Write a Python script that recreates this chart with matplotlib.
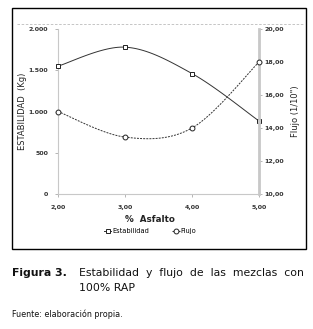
import numpy as np
import matplotlib.pyplot as plt
from matplotlib.patches import Rectangle
from matplotlib.lines import Line2D

asfalto = [2.0, 3.0, 4.0, 5.0]
estabilidad = [1550, 1780, 1460, 885]
flujo = [15.0, 13.45, 14.0, 18.0]

x_ticks = [2.0, 3.0, 4.0, 5.0]
x_labels = ['2,00', '3,00', '4,00', '5,00']
y_ticks = [0, 500, 1000, 1500, 2000]
y_labels = ['0', '500', '1.000', '1.500', '2.000']
y2_ticks = [10, 12, 14, 16, 18, 20]
y2_labels = ['10,00', '12,00', '14,00', '16,00', '18,00', '20,00']


def smooth(x, y, n=30):
    # curva suavizada tipo Excel (Catmull-Rom)
    x = np.asarray(x, float)
    y = np.asarray(y, float)
    px = np.concatenate([[x[0]], x, [x[-1]]])
    py = np.concatenate([[y[0]], y, [y[-1]]])
    xs, ys = [], []
    for i in range(1, len(px) - 2):
        p0, p1, p2, p3 = (px[i-1], py[i-1]), (px[i], py[i]), (px[i+1], py[i+1]), (px[i+2], py[i+2])
        c1 = (p1[0] + (p2[0] - p0[0]) / 6, p1[1] + (p2[1] - p0[1]) / 6)
        c2 = (p2[0] - (p3[0] - p1[0]) / 6, p2[1] - (p3[1] - p1[1]) / 6)
        t = np.linspace(0, 1, n)
        for a, b, c, d, out in [(p1[0], c1[0], c2[0], p2[0], xs), (p1[1], c1[1], c2[1], p2[1], ys)]:
            out.extend((1-t)**3*a + 3*(1-t)**2*t*b + 3*(1-t)*t**2*c + t**3*d)
    return np.array(xs), np.array(ys)


W, H = 313, 329
fig = plt.figure(figsize=(W / 100, H / 100), dpi=100)
fig.patch.set_facecolor('white')

# caja exterior y linea punteada superior
fig.patches.append(Rectangle((12 / W, 1 - 249 / H), 294 / W, 241 / H, transform=fig.transFigure,
                             fill=False, edgecolor='black', linewidth=1.0))
fig.lines.append(Line2D([17 / W, 304 / W], [1 - 24 / H, 1 - 24 / H], transform=fig.transFigure,
                        color='#bbbbbb', linewidth=0.6, linestyle=(0, (3, 2))))

ax = fig.add_axes([58 / W, 1 - 194 / H, 201 / W, 165 / H])
ax2 = ax.twinx()

ax.set_xlim(2, 5)
ax.set_ylim(0, 2000)
ax2.set_ylim(10, 20)

sx, sy = smooth(asfalto, estabilidad)
ax.plot(sx, sy, color='#333333', linewidth=0.7)
ax.plot(asfalto, estabilidad, linestyle='none', marker='s', markersize=3.5,
        markerfacecolor='white', markeredgecolor='#222222', markeredgewidth=0.7, clip_on=False, zorder=5)

fx, fy = smooth(asfalto, flujo)
ax2.plot(fx, fy, color='#333333', linewidth=0.7, linestyle=(0, (2, 1.2)))
ax2.plot(asfalto, flujo, linestyle='none', marker='o', markersize=3.5,
         markerfacecolor='white', markeredgecolor='#222222', markeredgewidth=0.7, clip_on=False, zorder=5)

for a in (ax, ax2):
    for s in a.spines.values():
        s.set_visible(False)
ax.spines['left'].set_visible(True)
ax.spines['left'].set_color('#c8c8c8')
ax.spines['bottom'].set_visible(True)
ax.spines['bottom'].set_color('#c8c8c8')
ax2.spines['right'].set_visible(True)
ax2.spines['right'].set_color('#c8c8c8')
ax2.spines['right'].set_linewidth(2.0)

tick_font = dict(fontsize=4.5, fontweight='bold', color='#333333')
ax.set_xticks(x_ticks)
ax.set_xticklabels(x_labels, **tick_font)
ax.set_yticks(y_ticks)
ax.set_yticklabels(y_labels, **tick_font)
ax2.set_yticks(y2_ticks)
ax2.set_yticklabels(y2_labels, **tick_font)
ax.tick_params(axis='x', length=2, width=0.5, color='#999999', pad=6)
ax.tick_params(axis='y', length=2, width=0.5, color='#999999', pad=5)
ax2.tick_params(axis='y', length=2, width=0.5, color='#999999', pad=2)

fig.text(23 / W, 1 - 111 / H, 'ESTABILIDAD  (Kg)', fontsize=6, color='#222222',
         rotation=90, ha='center', va='center')
fig.text(296 / W, 1 - 111 / H, 'Flujo (1/10")', fontsize=6, color='#222222',
         rotation=90, ha='center', va='center')

fig.text(150 / W, 1 - 219 / H, '%  Asfalto', fontsize=6.3, fontweight='bold', color='#222222',
         ha='center', va='center')

h1 = Line2D([], [], color='#333333', linewidth=0.7, marker='s', markersize=3.5,
            markerfacecolor='white', markeredgecolor='#222222', markeredgewidth=0.7)
h2 = Line2D([], [], color='#333333', linewidth=0.7, linestyle=(0, (2, 1.2)), marker='o', markersize=3.5,
            markerfacecolor='white', markeredgecolor='#222222', markeredgewidth=0.7)
fig.legend([h1, h2], ['Estabilidad', 'Flujo'], loc='center', bbox_to_anchor=(150 / W, 1 - 231 / H),
           ncol=2, frameon=False, handlelength=1.1, handletextpad=0.1, columnspacing=3.5,
           prop={'size': 4.8})

fig.text(12 / W, 1 - 273 / H, 'Figura 3.', fontsize=7.8, fontweight='bold', color='#111111', va='center')
fig.text(79 / W, 1 - 273 / H, 'Estabilidad  y  flujo  de  las  mezclas  con', fontsize=7.8,
         color='#111111', va='center')
fig.text(79 / W, 1 - 288 / H, '100% RAP', fontsize=7.8, color='#111111', va='center')
fig.text(12 / W, 1 - 314 / H, 'Fuente: elaboración propia.', fontsize=5.8, color='#111111', va='center')

fig.savefig('out.png', dpi=100)
